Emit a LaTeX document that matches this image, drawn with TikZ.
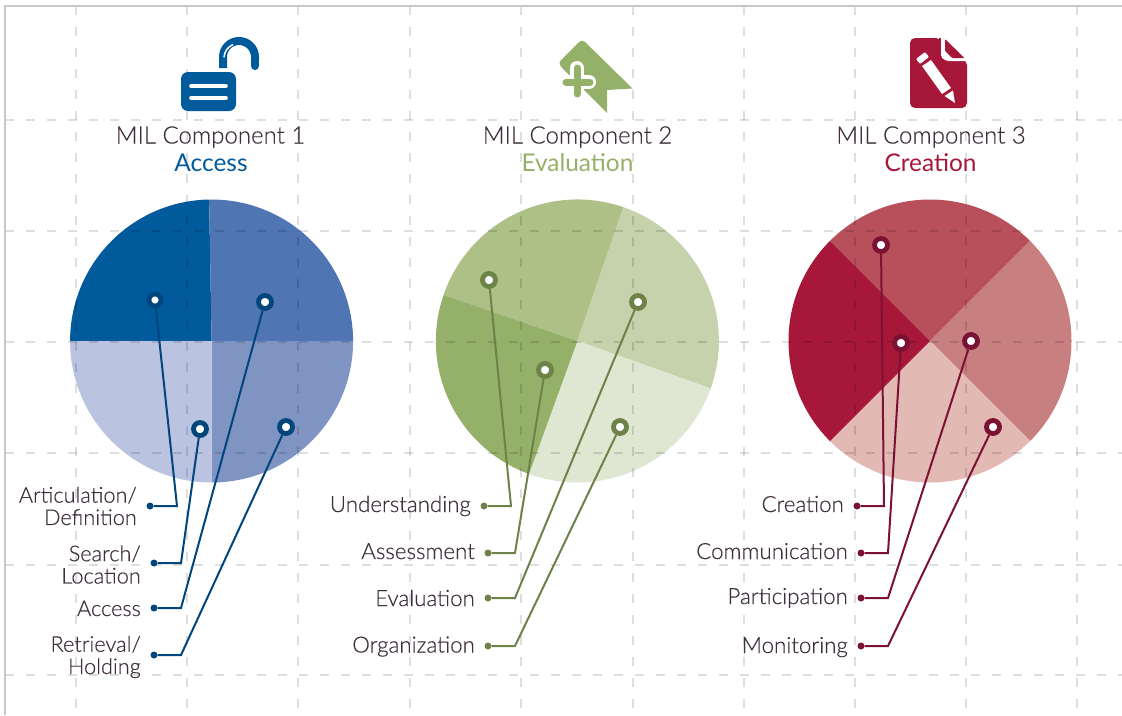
\documentclass[tikz,border=0pt]{standalone}
\usepackage{fontspec}
\setmainfont{Lato Light}[RawFeature={embolden=0.35}]
\newfontfamily\subfont{Lato}
\usetikzlibrary{calc}
\definecolor{txt}{HTML}{3F2F3D}
\definecolor{gridc}{HTML}{DEDEDE}
\definecolor{framec}{HTML}{C6C6CC}
\definecolor{blueA}{HTML}{005A9C}
\definecolor{blueB}{HTML}{4F75B3}
\definecolor{blueC}{HTML}{8094C3}
\definecolor{blueD}{HTML}{BAC3E0}
\definecolor{blueL}{HTML}{00457C}
\definecolor{greenA}{HTML}{95B068}
\definecolor{greenB}{HTML}{ADC086}
\definecolor{greenC}{HTML}{C5D2AB}
\definecolor{greenD}{HTML}{DFE7D2}
\definecolor{greenL}{HTML}{6C8248}
\definecolor{redA}{HTML}{A6173A}
\definecolor{redB}{HTML}{B8505C}
\definecolor{redC}{HTML}{C87F80}
\definecolor{redD}{HTML}{E2B9B3}
\definecolor{redL}{HTML}{7C1233}
\newcommand{\sect}[4]{\fill[#4] (#1) -- ($(#1)+(#2:141.5)$) arc[start angle=#2,end angle=#3,radius=141.5] -- cycle;}
\tikzset{
 x=1pt,y=1pt,
 gridline/.style={gridc,line width=1.1pt,dash pattern=on 9pt off 12pt},
 title/.style={font=\fontsize{24}{27}\selectfont,text=txt,inner sep=0pt,anchor=base},
 subtitle/.style={font=\subfont\fontsize{24.4}{27}\selectfont,inner sep=0pt,anchor=base},
 lab/.style={font=\fontsize{22.3}{22.5}\selectfont,text=txt,inner sep=0pt,align=right},
 labone/.style={lab,font=\fontsize{21.7}{22.3}\selectfont},
 ring/.style={circle,fill=white,inner sep=0pt,minimum size=13pt,line width=4.8pt},
 ringb/.style={ring,draw=blueL},
 ringg/.style={ring,draw=greenL},
 ringr/.style={ring,draw=redL},
 dotn/.style={circle,inner sep=0pt,minimum size=7pt},
 lead/.style={line width=2pt},
}
\begin{document}
\begin{tikzpicture}[x=1pt,y=1pt]
\useasboundingbox (0,-715) rectangle (1122,0);
\coordinate (c1) at (211.6,-341);
\coordinate (c2) at (577.4,-341);
\coordinate (c3) at (930,-341);
% pies
\sect{c1}{91}{180}{blueA}
\sect{c1}{0}{91}{blueB}
\sect{c1}{-90}{0}{blueC}
\sect{c1}{180}{270}{blueD}
\sect{c2}{71}{161}{greenB}
\sect{c2}{-19.6}{71}{greenC}
\sect{c2}{250}{340.4}{greenD}
\sect{c2}{161}{250}{greenA}
\sect{c3}{45}{135}{redB}
\sect{c3}{-45}{45}{redC}
\sect{c3}{225}{315}{redD}
\sect{c3}{135}{225}{redA}
% grid
\begin{scope}[blend mode=multiply]
\foreach \gx in {76,187,298,410,521,633,744,855,966,1077}
  \draw[gridline] (\gx,-6) -- (\gx,-715);
\foreach \gy in {120,231,342,453,565,675}
  \draw[gridline] (5,-\gy) -- (1122,-\gy);
\end{scope}
\draw[framec,line width=2pt] (5,-715) -- (5,-6) -- (1122,-6);
% lock icon
\fill[blueA,rounded corners=7pt] (181,-72) rectangle (236,-111);
\draw[white,line width=3.6pt,line cap=round] (191,-86) -- (226,-86);
\draw[white,line width=3.6pt,line cap=round] (191,-98) -- (226,-98);
\draw[blueA,line width=8pt] (223,-68) -- (223,-57) arc[start angle=180,end angle=0,radius=16] -- (255,-60);
\draw[blueA,line width=8pt,line cap=round] (255,-58) -- (255,-66);
\draw[white,line width=1.5pt,line cap=round] (224,-57) arc[start angle=175,end angle=115,radius=15];
% bookmark icon
\fill[greenA] (607,-113) -- (607,-90) -- (632.5,-88.5) [rounded corners=4pt] -- (582,-39) -- (558,-63) [sharp corners] -- (564,-70) -- cycle;
\draw[white,line width=14pt,line cap=round] (577,-68) -- (577,-94);
\draw[white,line width=14pt,line cap=round] (566,-82) -- (589,-82);
\draw[greenA,line width=7pt,line cap=round] (577,-68) -- (577,-94);
\draw[greenA,line width=7pt,line cap=round] (566,-82) -- (590,-82);
% document icon
\fill[redA,rounded corners=5pt] (910,-38) -- (941,-38) -- (941,-60) -- (967,-60) -- (967,-108) -- (910,-108) -- cycle;
\fill[redA] (939,-38) rectangle (941,-54);
\fill[white] (941,-36.5) -- (941,-53) arc[start angle=180,end angle=270,radius=8] -- (968,-61) -- (968,-36.5) -- cycle;
\fill[redA,rounded corners=1pt] (945,-39) -- (964.5,-58) -- (952,-58) -- (945,-51) -- cycle;
\fill[white,rounded corners=1pt] (916,-59) -- (925,-52) -- (929,-57) -- (920,-64) -- cycle;
\fill[white] (922,-66) -- (931,-60) -- (951,-88) -- (942,-94) -- cycle;
\fill[white] (944.5,-96) -- (953,-90.5) -- (955,-103) -- cycle;
% titles
\node[title] (t1) at (210.5,-143.5) {MIL Component 1};
\node[subtitle,text=blueA] (s1) at (211,-171) {Access};
\node[title] (t2) at (577.5,-143.5) {MIL Component 2};
\node[subtitle,text=greenA] (s2) at (577.5,-171) {Evaluation};
\node[title] (t3) at (931,-143.5) {MIL Component 3};
\node[subtitle,text=redA] (s3) at (930.5,-171) {Creation};
% component 1
\node[labone,anchor=east] (l1) at (137,-506) {Articulation/\\Definition};
\node[labone,anchor=east] (l2) at (141,-564.5) {Search/\\Location};
\node[labone,anchor=base east] (l3) at (141,-616) {Access};
\node[labone,anchor=east] (l4) at (141,-657) {Retrieval/\\Holding};
\node[ringb,minimum size=12pt] (r1) at (155,-300) {};
\node[ringb] (r2) at (200,-429) {};
\node[ringb] (r3) at (265,-302) {};
\node[ringb] (r4) at (286,-427) {};
\foreach \n/\xa/\ya in {1/150/506,2/154/563,3/154/608,4/154/655}
  \node[dotn,fill=blueL] (d\n) at (\xa,-\ya) {};
\coordinate (e1) at (177,-506);
\coordinate (e2) at (181,-563);
\coordinate (e3) at (181,-608);
\coordinate (e4) at (181,-655);
\foreach \n in {1,2,3,4}
  \draw[lead,blueL] (r\n) -- (e\n) -- (d\n);
% component 2
\node[lab,anchor=base east] (l5) at (471,-512) {Understanding};
\node[lab,anchor=base east] (l6) at (475,-559) {Assessment};
\node[lab,anchor=base east] (l7) at (475,-606) {Evaluation};
\node[lab,anchor=base east] (l8) at (475,-652.5) {Organization};
\node[ringg] (r5) at (489,-280) {};
\node[ringg] (r6) at (545,-370) {};
\node[ringg] (r7) at (638,-302) {};
\node[ringg] (r8) at (620,-427) {};
\foreach \n/\xa/\ya in {5/484/506,6/488/553,7/488/598,8/488/646}
  \node[dotn,fill=greenL] (d\n) at (\xa,-\ya) {};
\coordinate (e5) at (511,-506);
\coordinate (e6) at (515,-553);
\coordinate (e7) at (515,-598);
\coordinate (e8) at (515,-646);
\foreach \n in {5,6,7,8}
  \draw[lead,greenL] (r\n) -- (e\n) -- (d\n);
% component 3
\node[lab,anchor=base east] (l9) at (844,-512) {Creation};
\node[lab,anchor=base east] (l10) at (848,-559) {Communication};
\node[lab,anchor=base east] (l11) at (848,-604) {Participation};
\node[lab,anchor=base east] (l12) at (848,-653) {Monitoring};
\node[ringr] (r9) at (881,-245) {};
\node[ringr] (r10) at (901,-343) {};
\node[ringr] (r11) at (971,-341) {};
\node[ringr] (r12) at (993,-427) {};
\foreach \n/\xa/\ya in {9/857/506,10/861/553,11/861/598,12/861/646}
  \node[dotn,fill=redL] (d\n) at (\xa,-\ya) {};
\coordinate (e9) at (884,-506);
\coordinate (e10) at (888,-553);
\coordinate (e11) at (888,-598);
\coordinate (e12) at (888,-646);
\foreach \n in {9,10,11,12}
  \draw[lead,redL] (r\n) -- (e\n) -- (d\n);
\end{tikzpicture}
\end{document}
